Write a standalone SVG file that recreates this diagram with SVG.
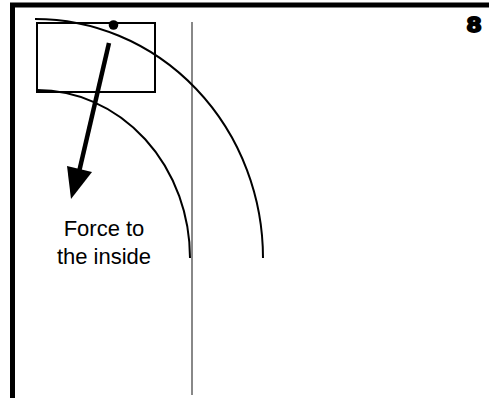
<svg xmlns="http://www.w3.org/2000/svg" width="497" height="398" viewBox="0 0 497 398">
<style>
.frame{fill:#000}
.path{stroke:#000;stroke-width:2;fill:none}
.lbl{font-family:"Liberation Sans",Arial,sans-serif;font-size:22px;fill:#000;text-anchor:middle}
</style>
<rect width="497" height="398" fill="#fff"/>
<g id="frame">
<path class="frame" d="M10,2.5 H489 V7.5 H15 V398 H10 Z"/>
<text x="474" y="32" font-family="'Liberation Sans',Arial,sans-serif" font-weight="bold" font-size="22" text-anchor="middle" stroke="#000" stroke-width="2" transform="translate(474 32) scale(1.15 1) translate(-474 -32)">8</text>
</g>
<g id="centerline">
<line x1="192" y1="22" x2="192" y2="395" stroke="#888" stroke-width="2"/>
</g>
<g id="car">
<rect x="37" y="23" width="118" height="69" class="path"/>
<circle cx="113.5" cy="25" r="4.8" fill="#000"/>
</g>
<g id="connectors">
<path class="path" d="M35,19 A228,239 0 0 1 263,258"/>
<path class="path" d="M37,90 A153,168 0 0 1 190,258"/>
<line x1="109" y1="43" x2="79" y2="172" stroke="#000" stroke-width="4.5"/>
<polygon points="67,166 92,172 71,199" fill="#000"/>
</g>
<g id="label">
<text class="lbl" x="104" y="236">Force to</text>
<text class="lbl" x="104" y="264">the inside</text>
</g>
</svg>
